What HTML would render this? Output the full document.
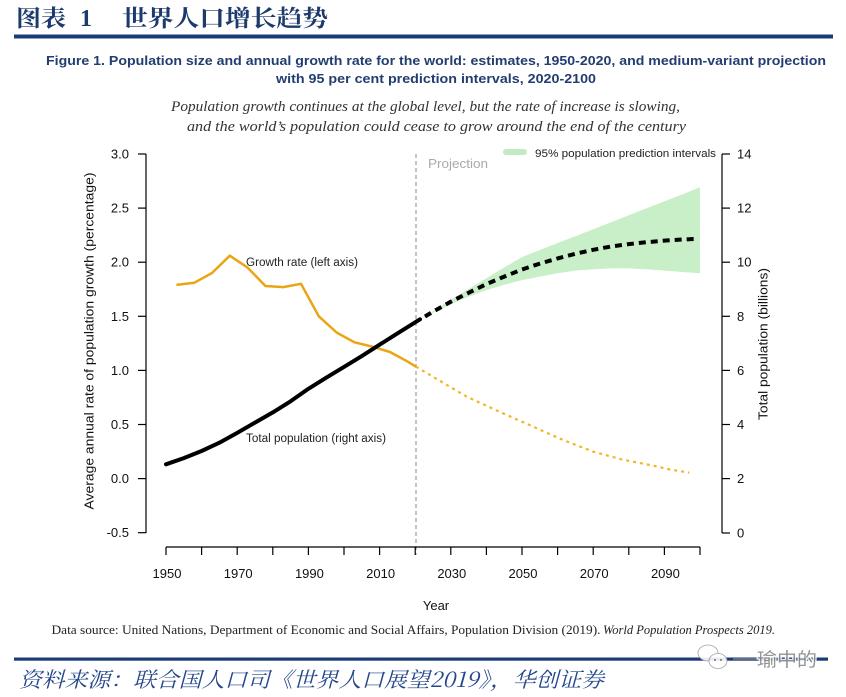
<!DOCTYPE html>
<html><head><meta charset="utf-8"><style>
html,body{margin:0;padding:0;background:#fff;}
svg{display:block;}
</style></head><body>
<svg width="846" height="697" viewBox="0 0 846 697" xmlns="http://www.w3.org/2000/svg">
<rect width="846" height="697" fill="#fff"/>
<!-- header -->
<g font-family="'Noto Serif CJK SC','Liberation Serif',serif" font-weight="bold" fill="#1d3a6c" font-size="23">
<text x="16" y="26" textLength="50" lengthAdjust="spacingAndGlyphs">图表</text>
<text x="80" y="26" font-family="'Liberation Serif',serif" font-size="24">1</text>
<text x="122" y="26" textLength="206" lengthAdjust="spacingAndGlyphs">世界人口增长趋势</text>
</g>
<rect x="14" y="34.5" width="819" height="4" fill="#1b3b74"/>
<g font-family="'Liberation Sans',sans-serif" font-weight="bold" fill="#223d70" font-size="13">
<text x="46" y="65" textLength="780" lengthAdjust="spacingAndGlyphs">Figure 1. Population size and annual growth rate for the world: estimates, 1950-2020, and medium-variant projection</text>
<text x="276" y="83" textLength="320" lengthAdjust="spacingAndGlyphs">with 95 per cent prediction intervals, 2020-2100</text>
</g>
<g font-family="'Liberation Serif',serif" font-style="italic" fill="#333" font-size="15">
<text x="171" y="111" textLength="509" lengthAdjust="spacingAndGlyphs">Population growth continues at the global level, but the rate of increase is slowing,</text>
<text x="187" y="131" textLength="499" lengthAdjust="spacingAndGlyphs">and the world’s population could cease to grow around the end of the century</text>
</g>

<!-- prediction band -->
<polygon fill="#c8efc8" points="415.2,322.3 433,311.2 450.8,299.8 468.6,289.0 486.4,278.2 504.2,267.4 522,257.1 539.8,250.0 557.6,243.0 575.4,236.2 593.2,229.2 611,222.2 628.8,215.2 646.6,208.2 664.4,201.4 682.2,194.4 700,187.3 700,273.3 682.2,272.0 664.4,270.6 646.6,269.3 628.8,268.4 611,268.4 593.2,269.3 575.4,270.6 557.6,273.3 539.8,276.6 522,280.1 504.2,284.7 486.4,290.1 468.6,296.6 450.8,304.2 433,312.8"/>

<!-- projection vertical dashed line -->
<line x1="416" y1="154" x2="416" y2="555" stroke="#8a8a8a" stroke-width="1" stroke-dasharray="4,3"/>

<!-- axes -->
<g stroke="#000" stroke-width="1.2" fill="none">
<line x1="146" y1="154" x2="146" y2="533"/>
<line x1="138" y1="154" x2="146" y2="154"/>
<line x1="138" y1="208.1" x2="146" y2="208.1"/>
<line x1="138" y1="262.2" x2="146" y2="262.2"/>
<line x1="138" y1="316.3" x2="146" y2="316.3"/>
<line x1="138" y1="370.4" x2="146" y2="370.4"/>
<line x1="138" y1="424.5" x2="146" y2="424.5"/>
<line x1="138" y1="478.6" x2="146" y2="478.6"/>
<line x1="138" y1="532.7" x2="146" y2="532.7"/>

<line x1="722" y1="154" x2="722" y2="533"/>
<line x1="722" y1="154" x2="730" y2="154"/>
<line x1="722" y1="208.1" x2="730" y2="208.1"/>
<line x1="722" y1="262.2" x2="730" y2="262.2"/>
<line x1="722" y1="316.3" x2="730" y2="316.3"/>
<line x1="722" y1="370.4" x2="730" y2="370.4"/>
<line x1="722" y1="424.5" x2="730" y2="424.5"/>
<line x1="722" y1="478.6" x2="730" y2="478.6"/>
<line x1="722" y1="533" x2="730" y2="533"/>

<line x1="166" y1="547" x2="700" y2="547"/>
<line x1="166" y1="547" x2="166" y2="555"/>
<line x1="201.6" y1="547" x2="201.6" y2="555"/>
<line x1="237.2" y1="547" x2="237.2" y2="555"/>
<line x1="272.8" y1="547" x2="272.8" y2="555"/>
<line x1="308.4" y1="547" x2="308.4" y2="555"/>
<line x1="344" y1="547" x2="344" y2="555"/>
<line x1="379.6" y1="547" x2="379.6" y2="555"/>
<line x1="415.2" y1="547" x2="415.2" y2="555"/>
<line x1="450.8" y1="547" x2="450.8" y2="555"/>
<line x1="486.4" y1="547" x2="486.4" y2="555"/>
<line x1="522" y1="547" x2="522" y2="555"/>
<line x1="557.6" y1="547" x2="557.6" y2="555"/>
<line x1="593.2" y1="547" x2="593.2" y2="555"/>
<line x1="628.8" y1="547" x2="628.8" y2="555"/>
<line x1="664.4" y1="547" x2="664.4" y2="555"/>
<line x1="700" y1="547" x2="700" y2="555"/>
</g>

<!-- tick labels -->
<g font-family="'Liberation Sans',sans-serif" font-size="13" fill="#111">
<g text-anchor="end">
<text x="129" y="158.5">3.0</text>
<text x="129" y="212.6">2.5</text>
<text x="129" y="266.7">2.0</text>
<text x="129" y="320.8">1.5</text>
<text x="129" y="374.9">1.0</text>
<text x="129" y="429">0.5</text>
<text x="129" y="483.1">0.0</text>
<text x="129" y="537.2">-0.5</text>
</g>
<text x="737" y="158.5">14</text>
<text x="737" y="212.6">12</text>
<text x="737" y="266.7">10</text>
<text x="737" y="320.8">8</text>
<text x="737" y="374.9">6</text>
<text x="737" y="429">4</text>
<text x="737" y="483.1">2</text>
<text x="737" y="537.5">0</text>
<g text-anchor="middle">
<text x="167" y="578">1950</text>
<text x="238.2" y="578">1970</text>
<text x="309.4" y="578">1990</text>
<text x="380.6" y="578">2010</text>
<text x="451.8" y="578">2030</text>
<text x="523" y="578">2050</text>
<text x="594.2" y="578">2070</text>
<text x="665.4" y="578">2090</text>
<text x="436" y="610">Year</text>
</g>
<text transform="translate(93.5,341) rotate(-90)" text-anchor="middle" textLength="337" lengthAdjust="spacingAndGlyphs">Average annual rate of population growth (percentage)</text>
<text transform="translate(767.5,344) rotate(-90)" text-anchor="middle" textLength="152" lengthAdjust="spacingAndGlyphs">Total population (billions)</text>
</g>

<!-- legend & annotations -->
<rect x="503" y="149" width="24" height="6" rx="3" fill="#c2ebc2"/>
<g font-family="'Liberation Sans',sans-serif" font-size="11" fill="#222">
<text x="535" y="157" textLength="181" lengthAdjust="spacingAndGlyphs">95% population prediction intervals</text>
<text x="246" y="266" font-size="11.5" textLength="112" lengthAdjust="spacingAndGlyphs">Growth rate (left axis)</text>
<text x="246" y="442" font-size="11.5" textLength="140" lengthAdjust="spacingAndGlyphs">Total population (right axis)</text>
</g>
<text x="428" y="168" font-family="'Liberation Sans',sans-serif" font-size="12.5" fill="#aaa" textLength="60" lengthAdjust="spacingAndGlyphs">Projection</text>

<!-- growth rate -->
<polyline fill="none" stroke="#eba514" stroke-width="2.5" stroke-linejoin="round" points="176.4,284.9 194.2,282.8 212,273.0 229.8,255.7 247.6,267.6 265.4,286.0 283.2,287.1 301,283.8 318.8,316.3 336.6,332.5 354.4,342.3 372.2,346.6 390,352.0 407.8,361.7 416,366.7"/>
<polyline fill="none" stroke="#f0b626" stroke-width="2.2" stroke-dasharray="3,4" points="416,366.7 441,381.5 466.7,396.7 500,412 533.3,426.7 563,440 593.3,451.7 622,459.5 650,465 670,469.5 689.3,472.7"/>

<!-- population -->
<polyline fill="none" stroke="#000" stroke-width="4" stroke-linejoin="round" stroke-linecap="round" points="166,464.3 183.8,458.1 201.6,451.0 219.4,442.7 237.2,432.9 255,422.6 272.8,412.4 290.6,401.3 308.4,388.8 326.2,377.7 344,366.9 361.8,356.1 379.6,344.7 397.4,333.4 415.2,322.3 420,319.3"/>
<polyline fill="none" stroke="#000" stroke-width="4" stroke-dasharray="7,5" points="425,316.5 433,311.7 450.8,301.7 468.6,292.8 486.4,284.1 504.2,276.6 522,269.5 539.8,263.6 557.6,258.4 575.4,253.8 593.2,249.8 611,246.5 628.8,244.1 646.6,242.2 664.4,240.6 682.2,239.5 694.7,239"/>

<!-- data source -->
<text x="51.5" y="634" font-family="'Liberation Serif',serif" font-size="12.5" fill="#222" textLength="549" lengthAdjust="spacingAndGlyphs">Data source: United Nations, Department of Economic and Social Affairs, Population Division (2019).</text>
<text x="603" y="634" font-family="'Liberation Serif',serif" font-style="italic" font-size="12.5" fill="#222" textLength="172" lengthAdjust="spacingAndGlyphs">World Population Prospects 2019.</text>

<!-- footer -->
<rect x="14" y="657.5" width="814" height="3.2" fill="#1b3b74"/>
<text x="19" y="687" font-family="'Noto Serif CJK SC','Liberation Serif',serif" font-style="italic" font-size="21" fill="#24468a" textLength="585" lengthAdjust="spacingAndGlyphs">资料来源：联合国人口司《世界人口展望2019》，华创证券</text>

<!-- watermark -->
<g opacity="0.9">
<ellipse cx="708" cy="653" rx="10" ry="8" fill="#fff" stroke="#9a9a9a" stroke-width="0.8"/>
<ellipse cx="718" cy="661" rx="9" ry="7.5" fill="#fff" stroke="#9a9a9a" stroke-width="0.8"/>
<circle cx="715" cy="660" r="1" fill="#777"/>
<circle cx="721" cy="660" r="1" fill="#777"/>
<line x1="733" y1="659" x2="757" y2="659" stroke="#888" stroke-width="1.5"/>
<text x="757" y="666" font-family="'Noto Sans CJK SC',sans-serif" font-size="19" fill="#8a8a8a" stroke="#fff" stroke-width="2.5" paint-order="stroke" textLength="60" lengthAdjust="spacingAndGlyphs">瑜中的</text>
</g>
</svg>
</body></html>
